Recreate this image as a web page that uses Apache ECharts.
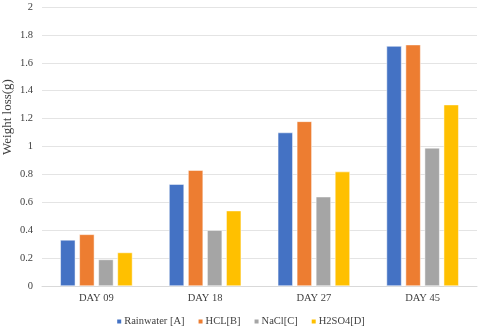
<!DOCTYPE html>
<html>
<head>
<meta charset="utf-8">
<script src="https://cdn.jsdelivr.net/npm/echarts@6/dist/echarts.min.js"></script>
<style>
  html, body { margin: 0; padding: 0; background: #fff; }
  #chart { width: 480px; height: 328px; }
</style>
</head>
<body>
<div id="chart"></div>
<script>
    // data
    var days = ['DAY 09', 'DAY 18', 'DAY 27', 'DAY 45'];
    var seriesNames = ['Rainwater [A]', 'HCL[B]', 'NaCl[C]', 'H2SO4[D]'];
    var rainwater = [0.33, 0.73, 1.10, 1.72];
    var hcl = [0.37, 0.83, 1.18, 1.73];
    var nacl = [0.19, 0.40, 0.64, 0.99];
    var h2so4 = [0.24, 0.54, 0.82, 1.30];
    var colors = ['#4472C4', '#ED7D31', '#A5A5A5', '#FFC000'];
    var yTitle = 'Weight loss(g)';

    var font = '"Liberation Serif", "Times New Roman", serif';
    var values = [rainwater, hcl, nacl, h2so4];

    var chart = echarts.init(document.getElementById('chart'), null, { renderer: 'canvas' });

    var series = seriesNames.map(function (name, i) {
        return {
            name: name,
            type: 'bar',
            data: values[i],
            barWidth: 15,
            barGap: '27%',
            itemStyle: { color: colors[i], borderColor: '#fff', borderWidth: 0.5 },
            animation: false
        };
    });

    chart.setOption({
        backgroundColor: '#fff',
        color: colors,
        textStyle: { fontFamily: font },
        grid: { left: 42, right: 3, top: 7, bottom: 42, outerBoundsMode: 'none', containLabel: false },
        // axis title drawn as plain text so it sits where the reference has it
        graphic: [{
            type: 'text',
            x: 8,
            y: 117,
            rotation: Math.PI / 2,
            style: {
                text: yTitle,
                font: '13px ' + font,
                fill: '#404040',
                align: 'center',
                verticalAlign: 'middle'
            }
        }],
        legend: {
            data: seriesNames,
            top: 311,
            left: 'center',
            itemWidth: 6,
            itemHeight: 6,
            itemGap: 12,
            icon: 'rect',
            textStyle: { fontFamily: font, fontSize: 10.5, color: '#404040', padding: [0, 0, 0, -3] }
        },
        xAxis: {
            type: 'category',
            data: days,
            axisLine: { lineStyle: { color: '#d9d9d9' } },
            axisTick: { show: false },
            axisLabel: { fontFamily: font, fontSize: 10.5, color: '#404040', margin: 7 }
        },
        yAxis: {
            type: 'value',
            min: 0,
            max: 2,
            interval: 0.2,
            axisLine: { show: false },
            axisTick: { show: false },
            splitLine: { lineStyle: { color: '#e4e4e4' } },
            axisLabel: {
                fontFamily: font, fontSize: 10.5, color: '#404040', margin: 9,
                formatter: function (v) { return String(Math.round(v * 10) / 10); }
            }
        },
        series: series
    });
</script>
</body>
</html>
